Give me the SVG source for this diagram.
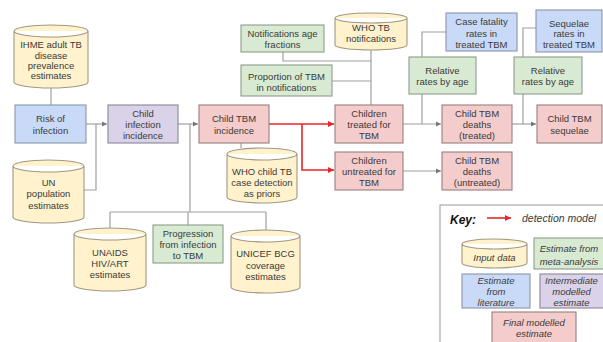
<svg xmlns="http://www.w3.org/2000/svg" width="603" height="342" viewBox="0 0 603 342">
<style>
text{font-family:"Liberation Sans",Arial,sans-serif;font-size:9.5px;fill:#3a3a3a;text-anchor:middle}
.it{font-style:italic}
.cyl{fill:#fff2cc;stroke:#a09880;stroke-width:1.1}
.blue{fill:#c9daf8;stroke:#8a96a8;stroke-width:1.1}
.purple{fill:#d9d2e9;stroke:#8a8595;stroke-width:1.1}
.pink{fill:#f4cccc;stroke:#9a7f7f;stroke-width:1.1}
.green{fill:#d9ead3;stroke:#8f9c8a;stroke-width:1.1}
.ln{fill:none;stroke:#a0a0a0;stroke-width:1.2}
.red{fill:none;stroke:#e8262a;stroke-width:1.6}
</style>
<defs>
<marker id="ag" markerWidth="6" markerHeight="6" refX="5" refY="3" orient="auto" markerUnits="userSpaceOnUse"><path d="M0,0.5 L5,3 L0,5.5 Z" fill="#777"/></marker>
<marker id="ar" markerWidth="7" markerHeight="7" refX="6" refY="3.5" orient="auto" markerUnits="userSpaceOnUse"><path d="M0,0.5 L6,3.5 L0,6.5 Z" fill="#e8262a"/></marker>
</defs>
<rect width="603" height="342" fill="#fff"/>
<g id="connectors">
<path class="ln" d="M51,88 V105"/>
<path class="ln" d="M86,124 H107" marker-end="url(#ag)"/>
<path class="ln" d="M84,190 H96 V124"/>
<path class="ln" d="M178,124 H198" marker-end="url(#ag)"/>
<path class="ln" d="M190,124 V212 M110,212 H266 M110,212 V228 M188,212 V225 M266,212 V230"/>
<path class="ln" d="M241,143 V148"/>
<path class="red" d="M269,124 H334" marker-end="url(#ar)"/>
<path class="red" d="M302,124 V170 H334" marker-end="url(#ar)"/>
<path class="ln" d="M371,50 V105 M283,52 V61 H371 M332,81 H371"/>
<path class="ln" d="M403,124 H441" marker-end="url(#ag)"/>
<path class="ln" d="M446,32 H422 V57 M422,94 V124"/>
<path class="ln" d="M512,124 H536" marker-end="url(#ag)"/>
<path class="ln" d="M536,28 H523 V57 M523,94 V124"/>
<path class="ln" d="M403,171 H441" marker-end="url(#ag)"/>
</g>
<g id="ihme"><path class="cyl" d="M14,31 A37,6 0 0 1 88,31 V82 A37,6 0 0 1 14,82 Z M14,31 A37,6 0 0 0 88,31"/>
<text x="51" y="47.5">IHME adult TB</text><text x="51" y="58.5">disease</text><text x="51" y="68.5">prevalence</text><text x="51" y="78.5">estimates</text></g>
<g id="risk"><rect class="blue" x="15" y="105" width="71" height="38"/><text x="50.5" y="121.5">Risk of</text><text x="50.5" y="133.5">infection</text></g>
<g id="un"><path class="cyl" d="M13,166 A35.5,6 0 0 1 84,166 V217 A35.5,6 0 0 1 13,217 Z M13,166 A35.5,6 0 0 0 84,166"/>
<text x="48.5" y="185.5">UN</text><text x="48.5" y="196.5">population</text><text x="48.5" y="208.5">estimates</text></g>
<g id="childinf"><rect class="purple" x="108" y="105" width="70" height="38"/><text x="143" y="116.5">Child</text><text x="143" y="127.5">infection</text><text x="143" y="138.5">incidence</text></g>
<g id="childtbm"><rect class="pink" x="199" y="105" width="70" height="38"/><text x="234" y="121.5">Child TBM</text><text x="234" y="133.5">incidence</text></g>
<g id="whochild"><path class="cyl" d="M227,154 A35,6 0 0 1 297,154 V197 A35,6 0 0 1 227,197 Z M227,154 A35,6 0 0 0 297,154"/>
<text x="262" y="174.5">WHO child TB</text><text x="262" y="185.5">case detection</text><text x="262" y="196.5">as priors</text></g>
<g id="unaids"><path class="cyl" d="M74,234 A36,6 0 0 1 146,234 V285 A36,6 0 0 1 74,285 Z M74,234 A36,6 0 0 0 146,234"/>
<text x="110" y="255.5">UNAIDS</text><text x="110" y="266.5">HIV/ART</text><text x="110" y="277.5">estimates</text></g>
<g id="progression"><rect class="green" x="153" y="225" width="70" height="38"/><text x="188" y="236.5">Progression</text><text x="188" y="247.5">from infection</text><text x="188" y="258.5">to TBM</text></g>
<g id="unicef"><path class="cyl" d="M231,236 A34.5,6 0 0 1 300,236 V287 A34.5,6 0 0 1 231,287 Z M231,236 A34.5,6 0 0 0 300,236"/>
<text x="265.5" y="256.5">UNICEF BCG</text><text x="265.5" y="268.5">coverage</text><text x="265.5" y="279.5">estimates</text></g>
<g id="notifage"><rect class="green" x="241" y="25" width="83" height="27"/><text x="282.5" y="36.5">Notifications age</text><text x="282.5" y="47.5">fractions</text></g>
<g id="proptbm"><rect class="green" x="241" y="65" width="91" height="31"/><text x="286.5" y="79.5">Proportion of TBM</text><text x="286.5" y="90.5">in notifications</text></g>
<g id="whotb"><path class="cyl" d="M335,18 A36,5 0 0 1 407,18 V45 A36,5 0 0 1 335,45 Z M335,18 A36,5 0 0 0 407,18"/>
<text x="371" y="30.5">WHO TB</text><text x="371" y="41.5">notifications</text></g>
<g id="treated"><rect class="pink" x="335" y="105" width="68" height="38"/><text x="369" y="116.5">Children</text><text x="369" y="127.5">treated for</text><text x="369" y="138.5">TBM</text></g>
<g id="untreated"><rect class="pink" x="335" y="152" width="68" height="38"/><text x="369" y="163.5">Children</text><text x="369" y="174.5">untreated for</text><text x="369" y="185.5">TBM</text></g>
<g id="cfr"><rect class="blue" x="446" y="13" width="71" height="38"/><text x="481.5" y="24.5">Case fatality</text><text x="481.5" y="36.5">rates in</text><text x="481.5" y="47.5">treated TBM</text></g>
<g id="rel1"><rect class="green" x="409" y="57" width="67" height="37"/><text x="442.5" y="73.5">Relative</text><text x="442.5" y="84.5">rates by age</text></g>
<g id="deathstreated"><rect class="pink" x="442" y="105" width="70" height="38"/><text x="477" y="116.5">Child TBM</text><text x="477" y="127.5">deaths</text><text x="477" y="138.5">(treated)</text></g>
<g id="deathsuntreated"><rect class="pink" x="442" y="152" width="70" height="38"/><text x="477" y="163.5">Child TBM</text><text x="477" y="174.5">deaths</text><text x="477" y="185.5">(untreated)</text></g>
<g id="seqrates"><rect class="blue" x="536" y="10" width="66" height="42"/><text x="569" y="26.5">Sequelae</text><text x="569" y="36.5">rates in</text><text x="569" y="47.5">treated TBM</text></g>
<g id="rel2"><rect class="green" x="514" y="57" width="68" height="37"/><text x="548" y="73.5">Relative</text><text x="548" y="84.5">rates by age</text></g>
<g id="sequelae"><rect class="pink" x="537" y="105" width="65" height="38"/><text x="569.5" y="121.5">Child TBM</text><text x="569.5" y="133.5">sequelae</text></g>
<g id="key">
<rect x="440" y="205" width="175" height="150" fill="#fff" stroke="#a0a0a0" stroke-width="1.1"/>
<text x="450" y="224" style="text-anchor:start;font-weight:bold;font-style:italic;font-size:12px;fill:#111">Key:</text>
<path class="red" d="M487,218 H511" marker-end="url(#ar)"/>
<text x="522" y="222" class="it" style="text-anchor:start;font-size:10.5px">detection model</text>
<path class="cyl" d="M462,244 A32.5,5 0 0 1 527,244 V263 A32.5,5 0 0 1 462,263 Z M462,244 A32.5,5 0 0 0 527,244"/>
<text x="494.5" y="260.5" class="it">Input data</text>
<rect class="green" x="534" y="238" width="75" height="31"/><text x="569" y="251.5" class="it">Estimate from</text><text x="569" y="264.5" class="it">meta-analysis</text>
<rect class="blue" x="462" y="274" width="68" height="34"/><text x="496" y="284" class="it">Estimate</text><text x="496" y="295" class="it">from</text><text x="496" y="306" class="it">literature</text>
<rect class="purple" x="540" y="274" width="70" height="34"/><text x="571.5" y="284" class="it">Intermediate</text><text x="571.5" y="295" class="it">modelled</text><text x="571.5" y="306" class="it">estimate</text>
<rect class="pink" x="492" y="312" width="84" height="36"/><text x="534" y="325.5" class="it">Final modelled</text><text x="534" y="336.5" class="it">estimate</text>
</g>
</svg>
